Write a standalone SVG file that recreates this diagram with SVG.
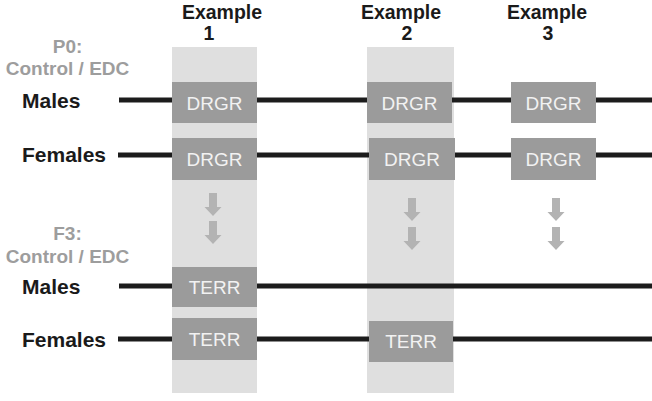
<svg xmlns="http://www.w3.org/2000/svg" width="652" height="401" viewBox="0 0 652 401">
<defs>
<style>
.col{fill:#dfdfdf}
.box{fill:#9b9b9b}
.bt{font-family:"Liberation Sans",Arial,sans-serif;font-size:19px;fill:#f2f2f2;text-anchor:middle}
.hd{font-family:"Liberation Sans",Arial,sans-serif;font-size:19.5px;font-weight:bold;fill:#1a1a1a;text-anchor:middle}
.gen{font-family:"Liberation Sans",Arial,sans-serif;font-size:19px;font-weight:bold;fill:#9d9d9d;text-anchor:middle}
.sex{font-family:"Liberation Sans",Arial,sans-serif;font-size:21px;font-weight:bold;fill:#1a1a1a}
.ln{stroke:#1c1c1c;stroke-width:5;fill:none}
.ar{fill:#b3b3b3}
</style>
<path id="arr" d="M-4,0 H4 V14 H8.5 L0,23 L-8.5,14 H-4 Z"/>
</defs>
<rect width="652" height="401" fill="#ffffff"/>
<g id="columns">
<rect class="col" x="172" y="47" width="85" height="346"/>
<rect class="col" x="367" y="47" width="87" height="346"/>
</g>
<g id="headers">
<text class="hd" x="222" y="19">Example</text>
<text class="hd" x="209" y="40">1</text>
<text class="hd" x="401" y="19">Example</text>
<text class="hd" x="407" y="40">2</text>
<text class="hd" x="547" y="19">Example</text>
<text class="hd" x="548" y="40">3</text>
</g>
<g id="labels">
<text class="gen" x="67.5" y="53">P0:</text>
<text class="gen" x="67.5" y="75">Control / EDC</text>
<text class="sex" x="22" y="108">Males</text>
<text class="sex" x="22" y="162">Females</text>
<text class="gen" x="67.5" y="240">F3:</text>
<text class="gen" x="67.5" y="263">Control / EDC</text>
<text class="sex" x="22" y="294">Males</text>
<text class="sex" x="22" y="347">Females</text>
</g>
<g id="connectors">
<line class="ln" x1="119" y1="100" x2="652" y2="100"/>
<line class="ln" x1="118" y1="155" x2="652" y2="155"/>
<line class="ln" x1="119" y1="286" x2="652" y2="286"/>
<line class="ln" x1="118" y1="339" x2="652" y2="339"/>
<use href="#arr" class="ar" x="213" y="193"/>
<use href="#arr" class="ar" x="213" y="221"/>
<use href="#arr" class="ar" x="412" y="198"/>
<use href="#arr" class="ar" x="412" y="227"/>
<use href="#arr" class="ar" x="556" y="198"/>
<use href="#arr" class="ar" x="556" y="227"/>
</g>
<g id="n1"><rect class="box" x="172" y="82" width="85" height="41"/><text class="bt" x="214.5" y="110">DRGR</text></g>
<g id="n2"><rect class="box" x="367" y="82" width="85" height="41"/><text class="bt" x="409.5" y="110">DRGR</text></g>
<g id="n3"><rect class="box" x="511" y="82" width="85" height="41"/><text class="bt" x="553.5" y="110">DRGR</text></g>
<g id="n4"><rect class="box" x="172" y="138" width="85" height="42"/><text class="bt" x="214.5" y="166">DRGR</text></g>
<g id="n5"><rect class="box" x="369" y="138" width="86" height="42"/><text class="bt" x="412" y="166">DRGR</text></g>
<g id="n6"><rect class="box" x="511" y="138" width="85" height="42"/><text class="bt" x="553.5" y="166">DRGR</text></g>
<g id="n7"><rect class="box" x="172" y="267" width="85" height="40"/><text class="bt" x="214.5" y="294">TERR</text></g>
<g id="n8"><rect class="box" x="172" y="318" width="85" height="42"/><text class="bt" x="214.5" y="346">TERR</text></g>
<g id="n9"><rect class="box" x="369" y="321" width="84" height="41"/><text class="bt" x="411" y="348">TERR</text></g>
</svg>
